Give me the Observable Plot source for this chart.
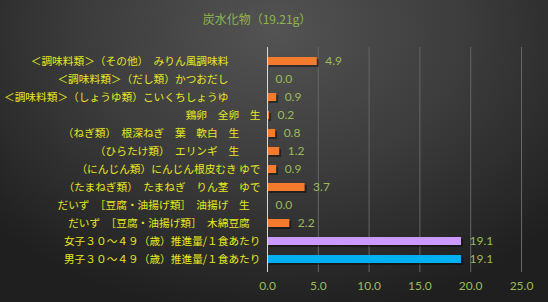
<!DOCTYPE html>
<html><head><meta charset="utf-8">
<script src="https://cdn.jsdelivr.net/npm/d3@7"></script>
<script src="https://cdn.jsdelivr.net/npm/@observablehq/plot@0.6"></script>
<style>
html,body{margin:0;padding:0;}
body{width:548px;height:302px;overflow:hidden;position:relative;
 background:radial-gradient(ellipse 70% 95% at 50% 10%, #535353 0%, #3c3c3c 50%, #1f1f1f 100%);
 font-family:"Noto Sans CJK JP",sans-serif;}
#chart{position:absolute;left:0;top:0;}
#title{position:absolute;left:0;top:10px;width:514px;text-align:center;color:#8FB44E;font-size:12px;font-family:"Noto Sans CJK JP",sans-serif;}
</style></head><body>
<div id="chart"></div>
<div id="title">炭水化物（19.21g）</div>
<script>
const categories = [
  "＜調味料類＞（その他）　みりん風調味料　　　",
  "＜調味料類＞（だし類）かつおだし　　　",
  "＜調味料類＞（しょうゆ類）こいくちしょうゆ　　　",
  "鶏卵　全卵　生",
  "（ねぎ類）　根深ねぎ　葉　軟白　生　　",
  "（ひらたけ類）　エリンギ　生　　",
  "（にんじん類）にんじん根皮むき ゆで",
  "（たまねぎ類）　たまねぎ　りん茎　ゆで",
  "だいず　［豆腐・油揚げ類］　油揚げ　生　",
  "だいず　［豆腐・油揚げ類］　木綿豆腐　",
  "女子３０～４９（歳）推進量/１食あたり",
  "男子３０～４９（歳）推進量/１食あたり"
];
const values = [4.9, 0.0, 0.9, 0.2, 0.8, 1.2, 0.9, 3.7, 0.0, 2.2, 19.1, 19.1];
const groups = ["食品","食品","食品","食品","食品","食品","食品","食品","食品","食品","女子","男子"];
const xTicks = [0, 5, 10, 15, 20, 25];

const data = categories.map((c, i) => ({category: c, value: values[i], group: groups[i]}));

const plot = Plot.plot({
  width: 548, height: 302,
  marginTop: 47, marginBottom: 30, marginLeft: 267, marginRight: 27,
  style: {background: "transparent", fontFamily: "'Noto Sans CJK JP', sans-serif", overflow: "visible"},
  x: {domain: [0, 25], ticks: xTicks, tickFormat: d3.format(".1f"), tickSize: 0, tickPadding: 9, label: null},
  y: {domain: categories, paddingInner: 0.56, paddingOuter: 0.28, tickSize: 0, tickPadding: 7, label: null},
  color: {domain: ["食品", "女子", "男子"], range: ["#F47B2E", "#CC99FF", "#00B0F0"]},
  marks: [
    Plot.ruleX(xTicks.filter(t => t > 0), {stroke: "#666666", strokeWidth: 1}),
    Plot.barX(data, {x: "value", y: "category", fill: "#000", fillOpacity: 0.4, dx: 2, dy: 2}),
    Plot.barX(data, {x: "value", y: "category", fill: "group"}),
    Plot.ruleX([0], {stroke: "#d9d9d9", strokeWidth: 1}),
    Plot.text(data, {x: "value", y: "category", text: d => d.value.toFixed(1), dx: 8, textAnchor: "start",
      fill: "#9BBB59", fontSize: 12, fontFamily: "Lato, sans-serif"})
  ]
});

const s = d3.select(plot);
s.selectAll('[aria-label^="x-axis"]').style("color", "#9BBB59");
s.selectAll('[aria-label^="x-axis"] text').style("font-size", "12px").style("font-family", "Lato, sans-serif");
s.selectAll('[aria-label^="y-axis"]').style("color", "#E8E81E");
s.selectAll('[aria-label^="y-axis"] text').style("font-size", "10.7px");
document.getElementById("chart").appendChild(plot);
</script>
</body></html>
